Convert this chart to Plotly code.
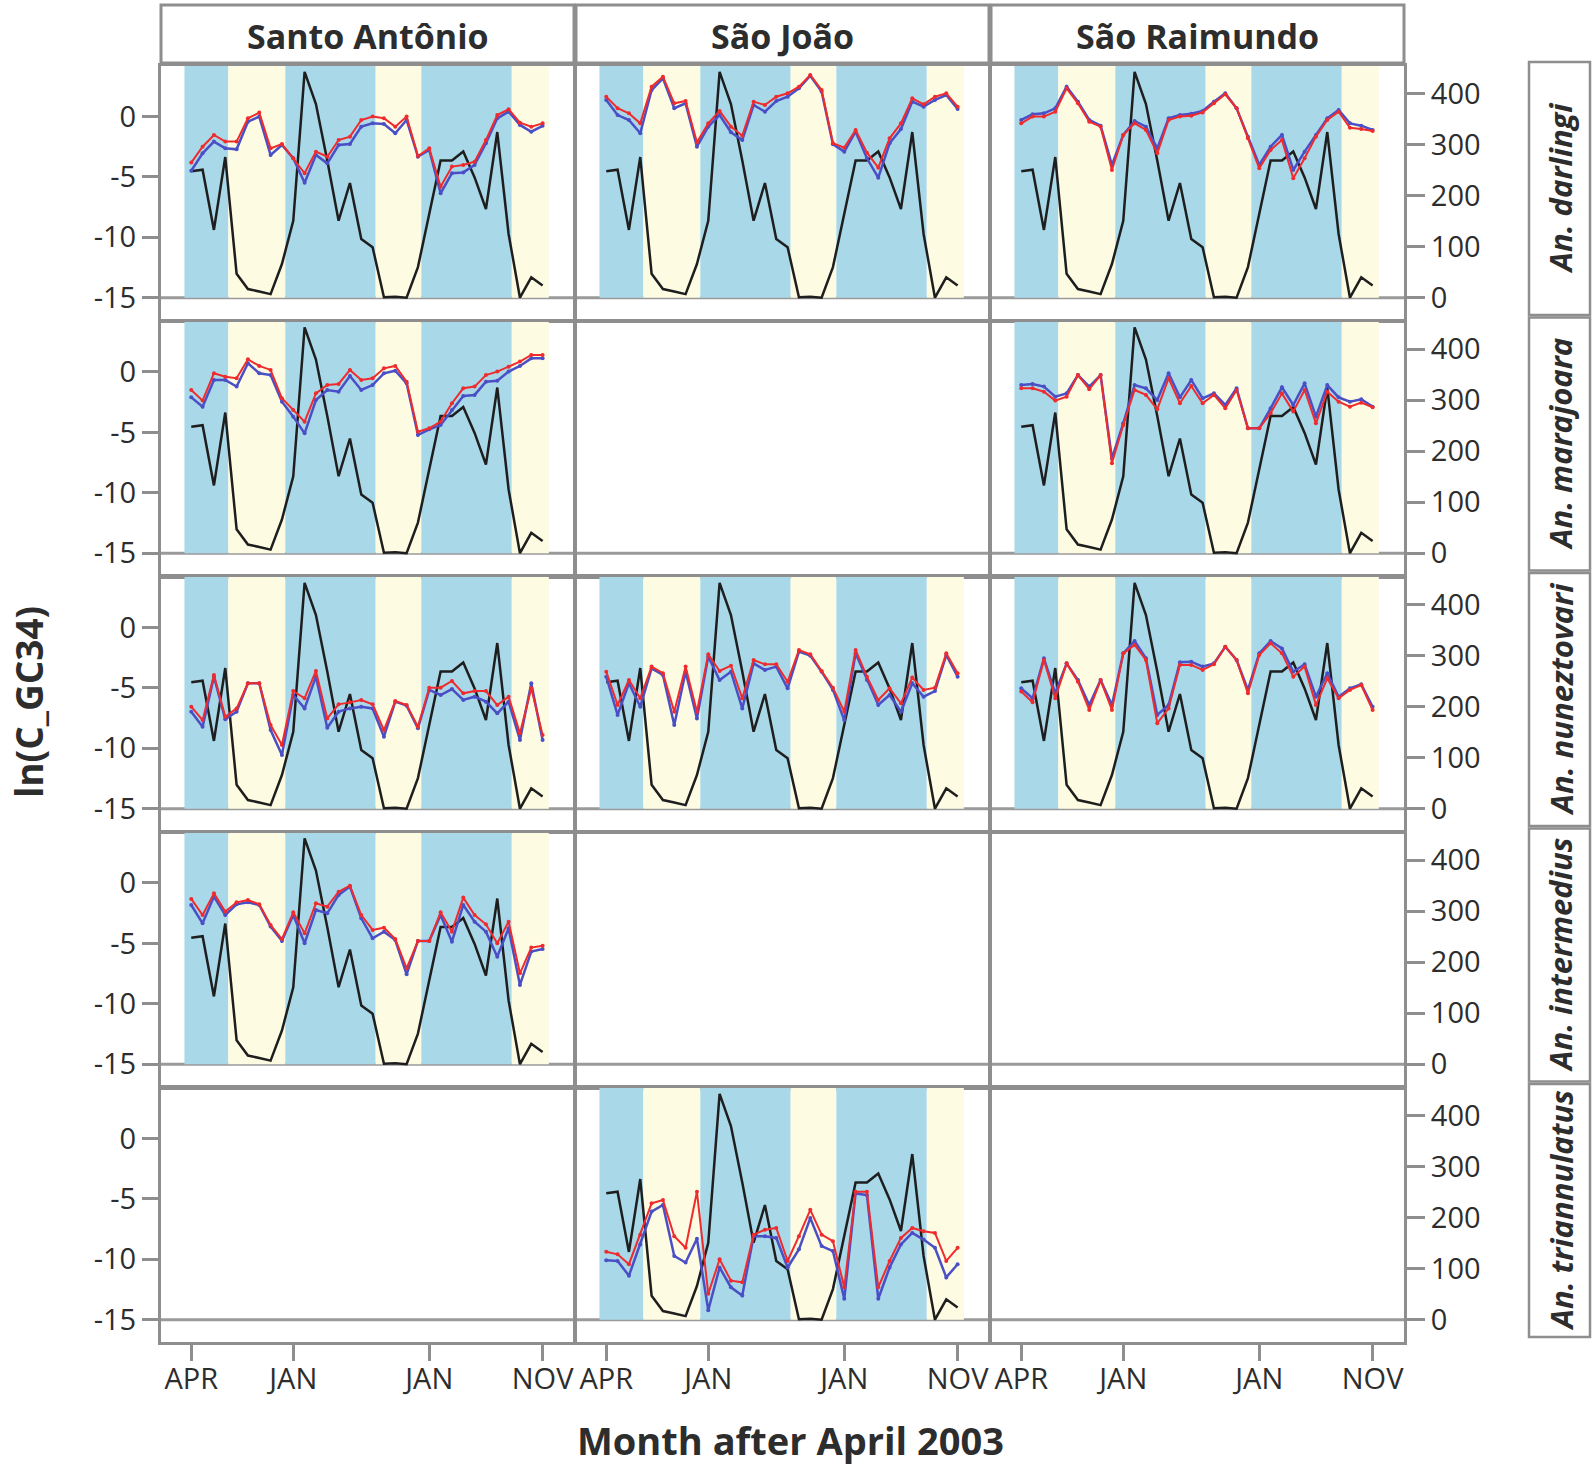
import plotly.graph_objects as go

W, H = 1594, 1468

# ---------------- data ----------------
months = list(range(32))                      # months after April 2003
month_tick_vals = [0, 9, 21, 31]
month_tick_text = ["APR", "JAN", "JAN", "NOV"]
ln_tick_vals = [0, -5, -10, -15]
ln_tick_text = ["0", "-5", "-10", "-15"]
rain_tick_vals = [0, 100, 200, 300, 400]
rain_tick_text = ["0", "100", "200", "300", "400"]

sites = ["Santo Antônio", "São João", "São Raimundo"]
species = ["An. darlingi", "An. marajoara", "An. nuneztovari",
           "An. intermedius", "An. triannulatus"]

# season boundaries (month index) and kind
season_edges = [-0.6, 3.27, 8.3, 16.27, 20.3, 28.28, 31.55]
season_kind = ["wet", "dry", "wet", "dry", "wet", "dry"]

# monthly rainfall (mm), black line, right axis
rain_mm = [248, 251, 133, 276, 47, 17, 12, 7, 66, 151, 443, 380, 269, 151, 225, 115,
           99, 1, 2, 0, 60, 164, 269, 269, 287, 236, 174, 325, 125, 0, 40, 24]

# ln(C_GC34) — red and blue series per site/species
sa_darlingi_red = [-3.82, -2.5, -1.53, -2.08, -2.08, -0.15, 0.32, -2.64, -2.28, -3.46, -4.7, -2.91, -3.33, -1.95, -1.67, -0.29,
                   -0.01, -0.15, -0.84, -0.01, -3.27, -2.64, -5.81, -4.15, -4.01, -3.74, -1.95, 0.12, 0.6, -0.51, -0.84, -0.57]
sa_darlingi_blue = [-4.49, -3.05, -2.08, -2.64, -2.72, -0.43, -0.01, -3.19, -2.36, -3.46, -5.48, -3.19, -3.88, -2.36, -2.28, -0.84,
                    -0.57, -0.62, -1.39, -0.29, -3.33, -2.77, -6.36, -4.7, -4.63, -4.01, -2.22, -0.15, 0.4, -0.7, -1.26, -0.77]
sj_darlingi_red = [1.64, 0.68, 0.26, -0.57, 2.47, 3.3, 1.09, 1.28, -2.14, -0.57, 0.46, -0.84, -1.59, 1.23, 0.95, 1.64,
                   1.92, 2.47, 3.44, 2.19, -2.22, -2.58, -1.12, -3.0, -4.24, -1.81, -0.57, 1.5, 1.01, 1.64, 1.92, 0.81]
sj_darlingi_blue = [1.37, 0.12, -0.29, -1.39, 2.19, 3.16, 0.68, 1.09, -2.5, -0.84, 0.12, -1.31, -1.95, 0.95, 0.4, 1.28,
                    1.64, 2.33, 3.38, 2.06, -2.3, -2.91, -1.26, -3.46, -5.07, -2.22, -1.04, 1.23, 0.81, 1.37, 1.78, 0.62]
sr_darlingi_red = [-0.57, -0.01, -0.01, 0.4, 2.33, 1.09, -0.43, -0.84, -4.43, -1.53, -0.57, -1.12, -3.05, -0.29, -0.01, 0.07,
                   0.34, 1.09, 1.84, 0.68, -1.81, -4.29, -2.77, -1.95, -5.12, -3.46, -1.67, -0.29, 0.4, -0.93, -1.04, -1.2]
sr_darlingi_blue = [-0.29, 0.18, 0.26, 0.68, 2.47, 1.23, -0.29, -0.76, -4.01, -1.53, -0.37, -0.84, -2.64, -0.15, 0.12, 0.23,
                    0.46, 1.23, 1.92, 0.68, -1.67, -4.01, -2.5, -1.53, -4.43, -2.91, -1.53, -0.15, 0.54, -0.57, -0.76, -1.12]
sa_marajoara_red = [-1.49, -2.37, -0.11, -0.39, -0.52, 1.05, 0.5, 0.17, -2.18, -3.15, -4.11, -1.77, -1.08, -0.99, 0.17, -0.66,
                    -0.52, 0.3, 0.5, -0.8, -4.94, -4.66, -4.11, -2.59, -1.35, -1.21, -0.25, 0.03, 0.44, 0.86, 1.41, 1.41]
sa_marajoara_blue = [-2.1, -2.87, -0.66, -0.66, -1.21, 0.72, -0.11, -0.25, -2.46, -3.7, -5.08, -2.32, -1.49, -1.63, -0.33, -1.49,
                     -1.08, -0.11, 0.11, -0.94, -5.22, -4.75, -4.39, -3.15, -1.99, -1.9, -0.8, -0.72, 0.03, 0.5, 1.13, 1.13]
sr_marajoara_red = [-1.35, -1.35, -1.63, -2.37, -2.04, -0.25, -1.43, -0.25, -7.56, -4.39, -1.49, -1.9, -3.09, -0.52, -2.59, -1.16,
                    -2.59, -1.9, -3.01, -1.49, -4.66, -4.66, -3.42, -1.77, -3.28, -1.49, -4.25, -1.63, -2.46, -2.87, -2.54, -2.92]
sr_marajoara_blue = [-1.08, -0.99, -1.21, -2.04, -1.77, -0.25, -1.21, -0.25, -7.15, -4.25, -1.08, -1.35, -2.32, -0.11, -2.1, -0.66,
                     -2.18, -1.77, -2.73, -1.35, -4.66, -4.66, -3.01, -1.27, -2.73, -0.94, -3.7, -1.08, -2.1, -2.46, -2.26, -2.87]
sa_nuneztovari_red = [-6.56, -7.67, -3.93, -7.39, -6.7, -4.62, -4.62, -8.07, -9.73, -5.26, -5.86, -3.6, -7.53, -6.36, -6.2, -6.0,
                      -6.36, -8.49, -6.09, -6.42, -8.21, -4.98, -4.98, -4.43, -5.45, -5.26, -5.26, -6.42, -5.73, -8.76, -5.04, -8.9]
sa_nuneztovari_blue = [-6.97, -8.21, -4.07, -7.59, -6.97, -4.62, -4.62, -8.49, -10.56, -5.59, -6.7, -4.07, -8.3, -6.97, -6.7, -6.56,
                       -6.7, -9.04, -6.14, -6.47, -8.35, -5.17, -5.59, -5.1, -6.0, -5.73, -6.14, -7.11, -6.14, -9.31, -4.62, -9.31]
sj_nuneztovari_red = [-3.66, -6.42, -4.35, -5.86, -3.24, -3.79, -6.97, -3.24, -6.97, -2.22, -3.6, -3.16, -5.86, -2.69, -3.05, -3.05,
                      -4.49, -1.86, -2.22, -3.6, -4.98, -6.97, -1.86, -4.07, -6.0, -5.04, -6.28, -4.14, -5.17, -4.98, -2.14, -3.79]
sj_nuneztovari_blue = [-4.07, -7.24, -4.62, -6.56, -3.38, -3.93, -8.07, -3.66, -7.53, -2.41, -4.35, -3.66, -6.7, -2.97, -3.52, -3.24,
                       -5.04, -2.0, -2.33, -3.66, -5.17, -7.67, -2.14, -4.35, -6.42, -5.59, -6.97, -4.62, -5.73, -5.26, -2.28, -4.07]
sr_nuneztovari_red = [-5.3, -6.2, -2.69, -5.86, -2.97, -4.49, -6.83, -4.35, -6.83, -2.14, -1.45, -2.69, -7.93, -6.7, -3.1, -3.1,
                      -3.52, -3.05, -1.59, -2.69, -5.45, -2.28, -1.31, -2.14, -4.07, -3.24, -6.42, -4.21, -5.86, -5.17, -4.76, -6.83]
sr_nuneztovari_blue = [-5.04, -5.86, -2.55, -5.45, -2.97, -4.35, -6.42, -4.35, -6.42, -2.14, -1.12, -2.55, -7.24, -6.42, -2.88, -2.83,
                       -3.24, -2.97, -1.59, -2.69, -5.17, -2.14, -1.12, -1.73, -3.66, -3.05, -5.73, -3.79, -5.73, -5.04, -4.71, -6.56]
sa_intermedius_red = [-1.32, -2.65, -0.86, -2.37, -1.6, -1.41, -1.77, -3.48, -4.64, -2.43, -4.17, -1.68, -1.96, -0.72, -0.22, -2.65,
                      -3.89, -3.7, -4.64, -7.06, -4.8, -4.8, -2.43, -4.03, -1.21, -2.65, -3.42, -4.99, -3.2, -7.48, -5.35, -5.19]
sa_intermedius_blue = [-1.82, -3.34, -1.13, -2.65, -1.77, -1.6, -1.82, -3.61, -4.8, -2.65, -4.99, -2.24, -2.51, -0.99, -0.3, -2.92,
                       -4.58, -4.03, -4.72, -7.56, -4.8, -4.8, -2.65, -4.86, -1.82, -3.2, -4.03, -6.1, -3.75, -8.44, -5.68, -5.46]
sj_triannulatus_red = [-9.37, -9.59, -10.41, -7.96, -5.37, -5.1, -8.09, -9.05, -4.41, -12.86, -10.0, -11.77, -11.91, -7.96, -7.55, -7.41,
                       -10.14, -8.09, -5.91, -7.96, -8.5, -12.32, -4.41, -4.41, -12.32, -10.14, -8.23, -7.41, -7.68, -7.82, -10.14, -9.05]
sj_triannulatus_blue = [-10.08, -10.14, -11.36, -8.77, -6.05, -5.5, -9.73, -10.27, -8.3, -14.22, -10.68, -12.32, -13.0, -8.09, -8.09, -8.23,
                        -10.68, -9.18, -6.59, -8.91, -9.32, -13.27, -4.55, -4.69, -13.27, -10.68, -8.77, -7.82, -8.37, -9.05, -11.5, -10.41]

panel_data = {
    (0, 0): (sa_darlingi_red, sa_darlingi_blue),
    (0, 1): (sj_darlingi_red, sj_darlingi_blue),
    (0, 2): (sr_darlingi_red, sr_darlingi_blue),
    (1, 0): (sa_marajoara_red, sa_marajoara_blue),
    (1, 2): (sr_marajoara_red, sr_marajoara_blue),
    (2, 0): (sa_nuneztovari_red, sa_nuneztovari_blue),
    (2, 1): (sj_nuneztovari_red, sj_nuneztovari_blue),
    (2, 2): (sr_nuneztovari_red, sr_nuneztovari_blue),
    (3, 0): (sa_intermedius_red, sa_intermedius_blue),
    (4, 1): (sj_triannulatus_red, sj_triannulatus_blue),
}

# ---------------- styling / layout ----------------
FONT = "Open Sans, Noto Sans, sans-serif"
TXT = "#2d2d2d"
GREY = "#8e8e8e"
WET = "#a9d8e9"
DRY = "#fdfbe2"
RED = "#ef2b2d"
BLUE = "#4a4fc6"
BLACK = "#1e1e1e"

X_RANGE = [-2.67, 33.77]
LN_RANGE = [-16.85, 4.18]
RAIN_RANGE = [-43.8, 454.6]

COL_L = [161, 576, 991]
COL_W = 413
ROW_T = [66 + 255.5 * r for r in range(5)]
ROW_H = 254
TICK_FONT = dict(size=29, color=TXT, family=FONT)


def fx(px):
    return px / W


def fy(py):
    return 1 - py / H


fig = go.Figure()
layout = dict(width=W, height=H, margin=dict(l=0, r=0, t=0, b=0),
              paper_bgcolor="white", plot_bgcolor="rgba(0,0,0,0)",
              showlegend=False, font=dict(family=FONT, color=TXT))
shapes = []
annotations = []

for r in range(5):
    for c in range(3):
        k = r * 3 + c
        xn = "x" if k == 0 else f"x{k+1}"
        base = "y" if k == 0 else f"y{k+1}"      # rainfall axis (right)
        over = f"y{k+16}"                        # ln axis (left), overlaying
        xdom = [fx(COL_L[c]), fx(COL_L[c] + COL_W)]
        ydom = [fy(ROW_T[r] + ROW_H), fy(ROW_T[r])]

        bottom = (r == 4)
        layout["xaxis" if k == 0 else f"xaxis{k+1}"] = dict(
            domain=xdom, anchor=base, range=X_RANGE, showgrid=False, zeroline=False,
            showline=True, mirror=True, linecolor=GREY, linewidth=3,
            tickmode="array", tickvals=month_tick_vals, ticktext=month_tick_text,
            ticks="outside" if bottom else "", ticklen=16, tickwidth=2.5, tickcolor=GREY,
            ticklabelstandoff=-7,
            showticklabels=bottom, tickfont=TICK_FONT, fixedrange=True)
        layout["yaxis" if k == 0 else f"yaxis{k+1}"] = dict(
            domain=ydom, anchor=xn, range=RAIN_RANGE, side="right",
            showgrid=False, zeroline=False, showline=True, mirror=True,
            linecolor=GREY, linewidth=3,
            tickmode="array", tickvals=rain_tick_vals, ticktext=rain_tick_text,
            ticks="outside" if c == 2 else "", ticklen=18, tickwidth=2.5, tickcolor=GREY,
            showticklabels=(c == 2), tickfont=TICK_FONT, fixedrange=True)
        layout[f"yaxis{k+16}"] = dict(
            overlaying=base, anchor=xn, range=LN_RANGE, side="left",
            showgrid=False, zeroline=False, showline=False,
            tickmode="array", tickvals=ln_tick_vals, ticktext=ln_tick_text,
            ticks="outside" if c == 0 else "", ticklen=18, tickwidth=2.5, tickcolor=GREY,
            showticklabels=(c == 0), tickfont=TICK_FONT, fixedrange=True)

        has = (r, c) in panel_data
        if has:
            for i, kind in enumerate(season_kind):
                shapes.append(dict(type="rect", xref=xn, yref=over, layer="below",
                                   x0=season_edges[i], x1=season_edges[i + 1],
                                   y0=-15, y1=LN_RANGE[1],
                                   fillcolor=WET if kind == "wet" else DRY, line=dict(width=0)))
        # reference line at ln = -15 (rain = 0)
        shapes.append(dict(type="line", xref=f"{xn} domain", yref=over, layer="below",
                           x0=0, x1=1, y0=-15, y1=-15, line=dict(color="#9a9a9a", width=3)))

        if has:
            red, blue = panel_data[(r, c)]
            fig.add_trace(go.Scatter(x=months, y=rain_mm, xaxis=xn, yaxis=base, mode="lines",
                                     line=dict(color=BLACK, width=2.5), hoverinfo="skip"))
            fig.add_trace(go.Scatter(x=months, y=blue, xaxis=xn, yaxis=over, mode="lines+markers",
                                     line=dict(color=BLUE, width=2.5), marker=dict(size=4, color=BLUE),
                                     hoverinfo="skip"))
            fig.add_trace(go.Scatter(x=months, y=red, xaxis=xn, yaxis=over, mode="lines+markers",
                                     line=dict(color=RED, width=2), marker=dict(size=4, color=RED),
                                     hoverinfo="skip"))
        else:
            # empty facet: invisible traces so that both axes of the subplot are drawn
            fig.add_trace(go.Scatter(x=[], y=[], xaxis=xn, yaxis=base, mode="lines",
                                     hoverinfo="skip"))
            fig.add_trace(go.Scatter(x=[], y=[], xaxis=xn, yaxis=over, mode="lines",
                                     hoverinfo="skip"))

# column header strips
for c, name in enumerate(sites):
    shapes.append(dict(type="rect", xref="paper", yref="paper",
                       x0=fx(COL_L[c]), x1=fx(COL_L[c] + COL_W), y0=fy(63), y1=fy(5),
                       line=dict(color=GREY, width=3), fillcolor="white"))
    annotations.append(dict(text=f"<b>{name}</b>", xref="paper", yref="paper",
                            x=fx(COL_L[c] + COL_W / 2), y=fy(36), showarrow=False,
                            xanchor="center", yanchor="middle",
                            font=dict(family=FONT, size=34, color=TXT)))

# row strips on the right
for r, name in enumerate(species):
    t = ROW_T[r] - 4
    shapes.append(dict(type="rect", xref="paper", yref="paper",
                       x0=fx(1529), x1=fx(1590), y0=fy(t + 253), y1=fy(t),
                       line=dict(color=GREY, width=2.5), fillcolor="white"))
    annotations.append(dict(text=f"<b><i>{name}</i></b>", xref="paper", yref="paper",
                            x=fx(1560), y=fy(t + 126.5), showarrow=False, textangle=-90,
                            xanchor="center", yanchor="middle",
                            font=dict(family=FONT, size=31, color=TXT)))

# axis titles
annotations.append(dict(text="<b>ln(C_GC34)</b>", xref="paper", yref="paper",
                        x=fx(28), y=fy(702), showarrow=False, textangle=-90,
                        xanchor="center", yanchor="middle",
                        font=dict(family=FONT, size=37, color=TXT)))
annotations.append(dict(text="<b>Month after April 2003</b>", xref="paper", yref="paper",
                        x=fx(790), y=fy(1440), showarrow=False,
                        xanchor="center", yanchor="middle",
                        font=dict(family=FONT, size=38, color=TXT)))

layout["shapes"] = shapes
layout["annotations"] = annotations
fig.update_layout(**layout)

fig.write_html("out.html", config={"displayModeBar": False},
               post_script="document.body.style.margin='0';document.body.style.overflow='hidden';")
